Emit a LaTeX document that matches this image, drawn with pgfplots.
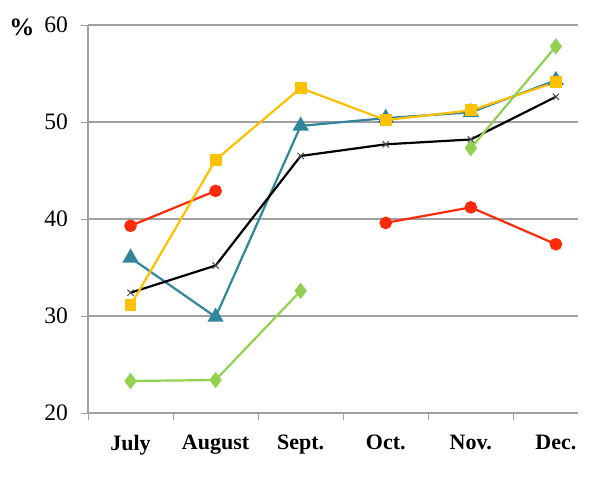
\documentclass[border=0pt]{standalone}
\usepackage{pgfplots}
\pgfplotsset{compat=1.18}
\usepackage{fontspec}
\setmainfont{Liberation Serif}

\definecolor{cred}{HTML}{FF2A0A}
\definecolor{cteal}{HTML}{31859C}
\definecolor{cyel}{HTML}{FFC000}
\definecolor{cgreen}{HTML}{92D050}
\definecolor{cgrid}{HTML}{A0A0A0}

\begin{document}
\begin{tikzpicture}
\useasboundingbox (-44pt,-35pt) rectangle (256pt,206.5pt);
\begin{axis}[
  at={(0,0)}, anchor=south west,
  scale only axis,
  width=245pt, height=194pt,
  xmin=-0.5, xmax=5.26,
  ymin=20, ymax=60,
  ytick={20,30,40,50,60},
  xtick={0,1,2,3,4,5},
  xticklabels={July,August,Sept.,Oct.,Nov.,Dec.},
  minor xtick={-0.5,0.5,1.5,2.5,3.5,4.5},
  major x tick style={draw=none},
  minor x tick style={cgrid},
  y tick style={cgrid},
  tick align=outside,
  major tick length=3.5pt,
  minor tick length=3.5pt,
  ymajorgrids,
  grid style={cgrid, line width=0.6pt},
  axis x line*=bottom, axis y line*=left,
  axis line style={cgrid, line width=0.6pt},
  font=\fontsize{11.5}{13}\selectfont,
  xticklabel style={font=\fontsize{11}{13}\selectfont\bfseries, yshift=-4pt},
  yticklabel style={font=\fontsize{11.8}{13}\selectfont, xshift=-3pt},
  /pgf/number format/assume math mode=true,
  unbounded coords=jump,
  clip=false,
  every axis plot/.append style={line width=1.1pt},
]
\addplot[color=cred, mark=*, mark size=2.6pt, mark options={fill=cred}]
  coordinates {(0,39.3) (1,42.9) (2,nan) (3,39.6) (4,41.2) (5,37.4)};
\addplot[color=cteal, mark=triangle*, mark size=3.6pt, mark options={fill=cteal}]
  coordinates {(0,36.0) (1,29.9) (2,49.6) (3,50.4) (4,51.0) (5,54.3)};
\addplot[color=black, mark=x, mark size=2.2pt, mark options={line width=0.5pt, draw=black!70}]
  coordinates {(0,32.4) (1,35.2) (2,46.5) (3,47.7) (4,48.2) (5,52.6)};
\addplot[color=cyel, mark=square*, mark size=2.4pt, mark options={fill=cyel}]
  coordinates {(0,31.1) (1,46.1) (2,53.5) (3,50.2) (4,51.2) (5,54.1)};
\addplot[color=cgreen, mark=diamond*, mark size=3.2pt, mark options={fill=cgreen}]
  coordinates {(0,23.3) (1,23.4) (2,32.6) (3,nan) (4,47.3) (5,57.8)};
\end{axis}
\node[font=\fontsize{12.5}{14}\selectfont\bfseries] at (-33pt,193pt) {\%};
\end{tikzpicture}
\end{document}
